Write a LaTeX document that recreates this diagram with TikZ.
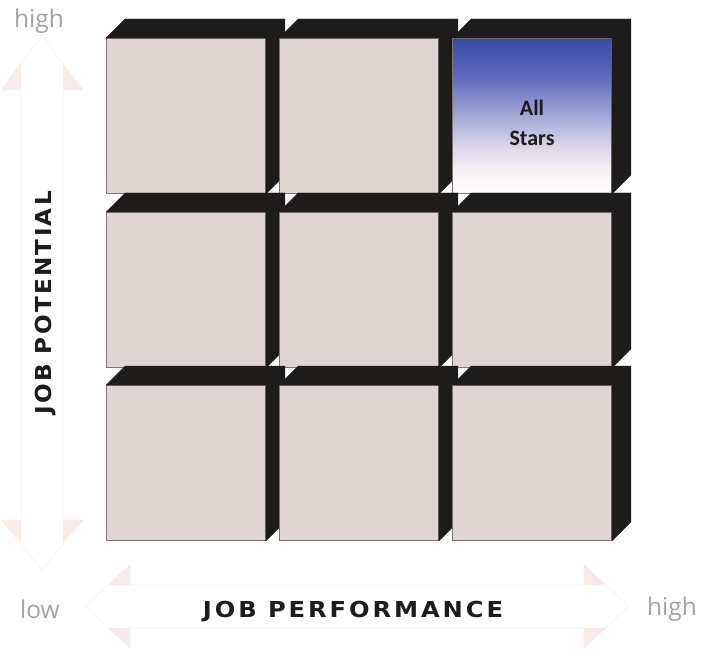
\documentclass[tikz,border=0pt]{standalone}
\usepackage{fontspec}
\usepackage{graphicx}
\usetikzlibrary{calc}
\newfontfamily\labfont{Open Sans}
\newfontfamily\perffont[LetterSpace=12]{DejaVu Sans Bold}
\newfontfamily\potfont[LetterSpace=10]{DejaVu Sans Bold}
\newfontfamily\starfont{Carlito Bold}
\definecolor{face}{HTML}{DFD6D4}
\definecolor{side}{HTML}{1E1B1B}
\definecolor{edge}{HTML}{7A7474}
\definecolor{lab}{HTML}{A3A3A3}
\definecolor{wing}{HTML}{F8EAE7}
\definecolor{axisline}{HTML}{F5F3F3}
\definecolor{asA}{HTML}{3A4CA5}
\definecolor{asB}{HTML}{5F6ABC}
\definecolor{asC}{HTML}{A3A8D8}
\definecolor{asD}{HTML}{DCD6EA}
\definecolor{asE}{HTML}{F7F0F3}
\pgfdeclareverticalshading{allstars}{100bp}{color(0bp)=(white); color(25bp)=(white); color(32.5bp)=(asE); color(40bp)=(asD); color(50bp)=(asC); color(62.5bp)=(asB); color(75bp)=(asA); color(100bp)=(asA)}
\tikzset{
  front/.style={draw=edge, line width=0.9pt, fill=face, minimum width=159pt, minimum height=155pt, inner sep=0pt, anchor=north west},
  blackface/.style={fill=side, draw=side, line width=0.3pt, line join=round},
  axisarrow/.style={fill=white, draw=axisline, line width=0.6pt},
  wingfill/.style={fill=wing},
  endlabel/.style={font=\labfont\fontsize{24.5}{28}\selectfont, text=lab, anchor=base, inner sep=0pt},
  axislabel/.style={text=side, anchor=base, inner sep=0pt}
}
\begin{document}
\begin{tikzpicture}[x=1pt,y=-1pt]
\useasboundingbox (0,0) rectangle (709,652);
% vertical axis arrow
\coordinate (vt) at (42,35);
\coordinate (vb) at (42,570);
\draw[axisarrow] (vt) -- (83,90) -- (63,90) -- (63,520) -- (83,520) -- (vb) -- (1,520) -- (21,520) -- (21,90) -- (1,90) -- cycle;
\fill[wingfill] (63,90) -- (83,90) -- (63,63) -- cycle;
\fill[wingfill] (21,90) -- (1,90) -- (21,63) -- cycle;
\fill[wingfill] (63,520) -- (83,520) -- (63,542) -- cycle;
\fill[wingfill] (21,520) -- (1,520) -- (21,542) -- cycle;
% horizontal axis arrow
\coordinate (hl) at (85,606.5);
\coordinate (hr) at (629,606.5);
\draw[axisarrow] (hl) -- (130,565) -- (130,585) -- (584,585) -- (584,565) -- (hr) -- (584,648) -- (584,628) -- (130,628) -- (130,648) -- cycle;
\fill[wingfill] (130,565) -- (130,585) -- (108,585) -- cycle;
\fill[wingfill] (130,648) -- (130,628) -- (108,628) -- cycle;
\fill[wingfill] (584,565) -- (584,585) -- (606,585) -- cycle;
\fill[wingfill] (584,648) -- (584,628) -- (606,628) -- cycle;
% cubes
\foreach \r/\y in {1/38,2/212,3/385}{
  \foreach \c/\x in {1/106,2/279,3/452}{
    \ifnum\r\c=13
      \node[front, shading=allstars, draw=edge] (c\r\c) at (\x,\y) {};
    \else
      \node[front] (c\r\c) at (\x,\y) {};
    \fi
    \fill[blackface] (c\r\c.north west) -- ($(c\r\c.north west)+(19,-19)$) -- ($(c\r\c.north east)+(19,-19)$) -- (c\r\c.north east) -- cycle;
    \fill[blackface] (c\r\c.north east) -- ($(c\r\c.north east)+(19,-19)$) -- ($(c\r\c.south east)+(19,-19)$) -- (c\r\c.south east) -- cycle;
  }
}
\node[font=\starfont\fontsize{22}{30}\selectfont, text=side, align=center] (stars) at (532,123) {All\\Stars};
% labels
\node[endlabel] (hightop) at (39,28) {high};
\node[endlabel] (low) at (40,618) {low};
\node[endlabel] (highright) at (672,615) {high};
\node[axislabel, font=\perffont\fontsize{22}{26}\selectfont] (perf) at (353,617) {\scalebox{1.1}[1]{JOB PERFORMANCE}};
\node[axislabel, font=\potfont\fontsize{22}{26}\selectfont, rotate=90] (pot) at (51,303) {\scalebox{1.05}[1]{JOB POTENTIAL}};
\end{tikzpicture}
\end{document}
